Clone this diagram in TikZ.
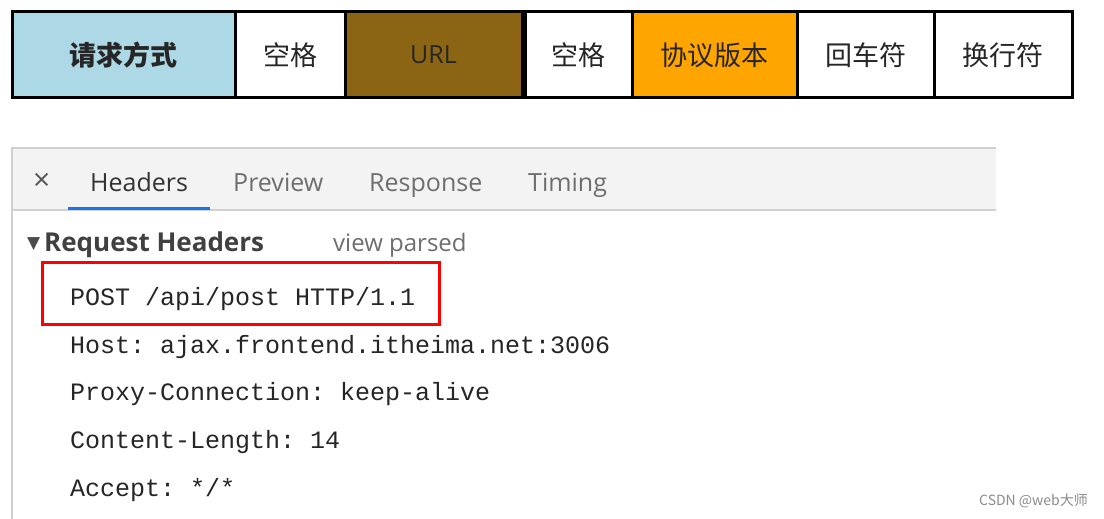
\documentclass[tikz,border=0pt]{standalone}
\usepackage{fontspec}
\setmainfont{Open Sans}
\setmonofont{Liberation Mono}
\newfontfamily\cjk{Noto Sans CJK SC}
\newfontfamily\symb{DejaVu Sans}
\usetikzlibrary{positioning}

\definecolor{lightblue}{RGB}{173,216,230}
\definecolor{urlbrown}{RGB}{139,101,20}
\definecolor{verorange}{RGB}{255,165,0}
\definecolor{tabgray}{RGB}{243,243,243}
\definecolor{edgegray}{RGB}{208,208,208}
\definecolor{tabblue}{RGB}{26,115,232}
\definecolor{txtgray}{RGB}{110,110,110}

\tikzset{
  cell/.style={draw=black, line width=3pt, minimum height=86pt, inner sep=0pt, text=black!85, font=\cjk\fontsize{27}{30}\selectfont},
  tab/.style={anchor=base west, text=txtgray, inner sep=0pt, font=\fontsize{25}{30}\selectfont},
  code/.style={anchor=base west, inner sep=0pt, text=black!85, font=\ttfamily\fontsize{25}{30}\selectfont}
}

\begin{document}
\begin{tikzpicture}[x=1pt, y=-1pt]
        \useasboundingbox [fill=white] (0,0) rectangle (1104,519);
        % request line parts
        \node[cell, fill=lightblue, minimum width=223pt] (method) at (123.5,55) {\bfseries 请求方式};
        \node[cell, fill=white, minimum width=110pt] (sp1) at (290,55) {空格};
        \node[cell, fill=urlbrown, minimum width=177pt] (url) at (433.5,55) {\rmfamily\fontsize{25}{30}\selectfont URL};
        \node[cell, fill=white, minimum width=107pt] (sp2) at (578.5,55) {空格};
        \node[cell, fill=verorange, minimum width=165pt] (ver) at (714.5,55) {协议版本};
        \node[cell, fill=white, minimum width=137pt] (cr) at (865.5,55) {回车符};
        \node[cell, fill=white, minimum width=138pt] (lf) at (1003,55) {换行符};
        % devtools panel
        \fill [tabgray] (12,148) rectangle (996,210);
        \draw [edgegray, line width=1.5pt] (996,148) -- (12,148) -- (12,519);
        \draw [edgegray, line width=1.5pt] (12,210) -- (996,210);
        \draw [tabblue, line width=3pt] (68,208) -- (210,208);
        \node[tab, text=black!65, font=\fontsize{30}{32}\selectfont] (close) at (33,190) {×};
        \node[tab, text=black!80] (headers) at (90,191) {Headers};
        \node[tab] (preview) at (233,191) {Preview};
        \node[tab] (response) at (369,191) {Response};
        \node[tab] (timing) at (528,191) {Timing};
        \node[tab, text=black!70, font=\symb\fontsize{17}{18}\selectfont] (tri) at (27,248) {▼};
        \node[tab, text=black!75, font=\bfseries\fontsize{26}{30}\selectfont] (reqhead) at (44,251) {Request Headers};
        \node[tab, font=\fontsize{24}{30}\selectfont] (parsed) at (333,251) {view parsed};
        \node[code] (line1) at (70,305) {POST /api/post HTTP/1.1};
        \node[code] (line2) at (70,353) {Host: ajax.frontend.itheima.net:3006};
        \node[code] (line3) at (70,400) {Proxy-Connection: keep-alive};
        \node[code] (line4) at (70,448) {Content-Length: 14};
        \node[code] (line5) at (70,496) {Accept: */*};
        \draw [red, line width=3pt] (42,262) rectangle (439,324);
        \node[anchor=east, inner sep=0pt, text=black!45, font=\cjk\fontsize{14}{16}\selectfont] (mark) at (1088,501) {CSDN @web大师};
    \end{tikzpicture}
\end{document}
